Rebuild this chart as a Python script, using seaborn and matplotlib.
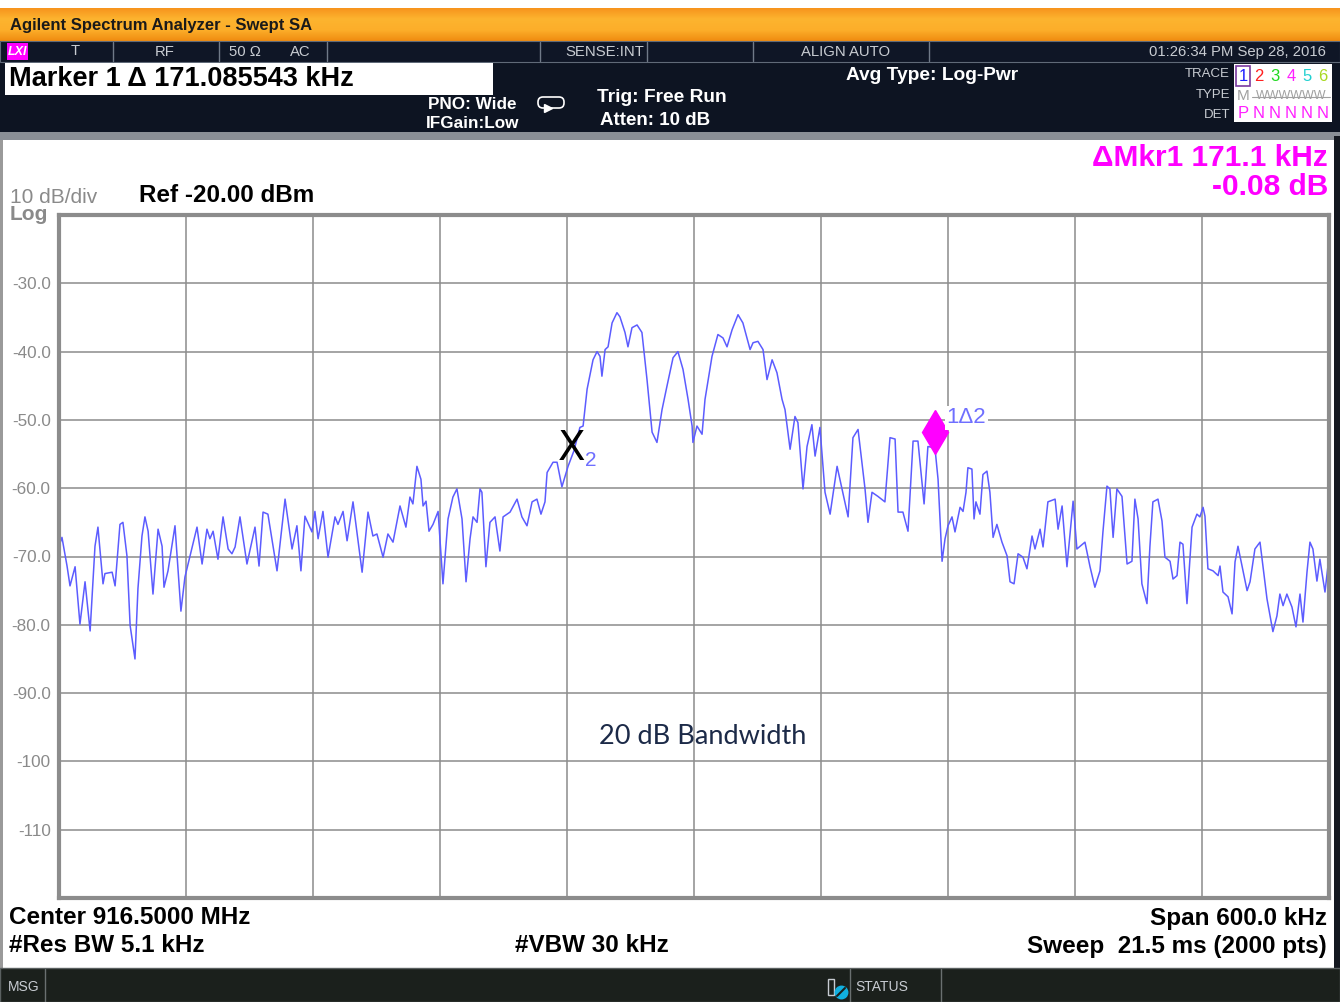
import numpy as np
import matplotlib
matplotlib.use("Agg")
import matplotlib.pyplot as plt
from matplotlib.patches import Rectangle, FancyBboxPatch
import seaborn as sns

# trace 1: offset from 916.5 MHz centre (kHz) and level (dBm)
freq_khz = [
    -300.0, -298.6, -296.2, -294.8, -292.4, -290.1, -287.7, -285.3, -283.0, -281.6,
    -279.2, -278.3, -274.9, -273.5, -271.2, -269.8, -267.9, -266.4, -264.1, -262.7,
    -260.8, -259.4, -257.9, -255.6, -253.2, -251.3, -250.4, -248.5, -245.2, -242.4,
    -240.5, -238.1, -234.8, -232.4, -230.1, -228.7, -227.2, -224.9, -222.5, -220.1,
    -218.3, -216.8, -214.5, -211.2, -207.4, -205.5, -203.6, -201.3, -197.0, -193.2,
    -189.9, -187.6, -185.7, -183.8, -180.5, -179.1, -177.6, -175.3, -172.9, -169.6,
    -168.2, -165.8, -163.9, -161.1, -159.2, -156.8, -154.0, -151.7, -149.8, -146.9,
    -144.6, -142.2, -138.9, -136.1, -134.2, -132.8, -130.9, -129.0, -128.0, -126.6,
    -125.2, -123.3, -120.9, -118.6, -116.2, -113.9, -112.0, -109.6, -107.7, -105.8,
    -104.4, -102.5, -101.1, -100.2, -98.3, -96.4, -94.0, -91.7, -90.2, -86.9,
    -83.6, -81.3, -78.9, -76.5, -74.2, -72.3, -70.4, -69.4, -66.6, -64.7,
    -62.4, -59.5, -56.7, -53.9, -52.4, -50.5, -47.7, -45.8, -44.4, -43.5,
    -42.0, -40.6, -38.7, -36.4, -35.0, -32.6, -31.2, -29.3, -26.9, -24.6,
    -22.2, -19.8, -17.5, -15.1, -12.8, -9.9, -7.6, -5.2, -2.8, -0.9,
    -0.5, 1.4, 3.8, 5.2, 8.5, 11.3, 13.7, 15.6, 18.0, 20.8,
    23.1, 26.5, 27.9, 30.2, 32.6, 34.5, 36.9, 39.2, 41.6, 43.0,
    45.4, 47.7, 49.1, 51.5, 53.4, 55.7, 57.2, 59.5, 61.9, 64.3,
    67.6, 69.9, 72.8, 75.1, 77.5, 80.8, 82.2, 84.1, 86.9, 90.2,
    92.6, 95.0, 96.4, 98.7, 101.1, 103.5, 105.8, 108.7, 110.5, 112.4,
    113.9, 115.3, 117.2, 118.6, 120.0, 121.9, 123.3, 125.7, 127.1, 128.5,
    129.4, 131.3, 132.3, 133.2, 135.1, 136.5, 138.4, 139.8, 141.3, 143.1,
    145.5, 147.9, 149.3, 151.2, 153.1, 155.4, 157.3, 159.7, 161.1, 163.5,
    164.9, 167.2, 170.6, 172.0, 173.9, 176.2, 179.1, 180.9, 184.7, 187.1,
    189.4, 191.8, 193.2, 195.1, 196.5, 198.0, 199.8, 202.2, 204.6, 206.9,
    208.3, 209.8, 211.6, 214.0, 215.4, 216.8, 219.2, 221.1, 222.5, 224.9,
    226.3, 228.2, 229.6, 231.0, 232.9, 235.3, 237.6, 239.0, 240.5, 241.4,
    242.8, 245.2, 247.6, 248.5, 249.9, 252.3, 254.2, 255.6, 257.0, 258.9,
    261.3, 262.7, 265.0, 267.4, 268.8, 270.7, 273.5, 275.4, 276.8, 278.3,
    280.1, 282.5, 284.4, 286.3, 287.7, 289.6, 291.0, 292.4, 294.3, 295.7,
    298.1, 299.5,
]
level_dbm = [
    -68.5, -67.2, -71.4, -74.3, -71.5, -79.9, -73.7, -80.9, -68.5, -65.7,
    -74.0, -72.5, -72.3, -74.3, -65.3, -65.0, -69.9, -80.1, -85.0, -74.7,
    -67.0, -64.2, -66.3, -75.5, -66.0, -68.5, -74.5, -72.1, -65.5, -78.0,
    -73.0, -69.9, -65.7, -71.1, -66.0, -67.4, -66.3, -70.4, -64.2, -68.9,
    -69.6, -68.6, -64.2, -71.1, -65.7, -71.4, -63.5, -63.8, -72.1, -61.6,
    -68.9, -65.5, -72.1, -64.1, -66.4, -63.4, -67.4, -63.4, -70.1, -64.2,
    -65.3, -63.4, -67.7, -62.0, -66.5, -72.3, -63.5, -67.0, -66.7, -70.1,
    -66.7, -67.9, -62.6, -65.7, -61.3, -62.3, -56.8, -58.7, -62.6, -61.9,
    -66.3, -65.3, -63.4, -74.0, -64.5, -61.3, -60.1, -64.5, -73.7, -67.4,
    -64.2, -65.0, -60.1, -60.6, -71.5, -65.0, -64.2, -69.2, -64.2, -63.5,
    -61.6, -64.2, -65.5, -62.0, -61.6, -63.8, -62.0, -57.7, -56.2, -56.2,
    -59.8, -56.8, -54.5, -51.1, -50.9, -45.5, -41.2, -40.0, -40.7, -43.6,
    -39.7, -39.3, -35.8, -34.3, -34.9, -37.2, -39.3, -36.5, -36.1, -37.2,
    -44.1, -51.8, -53.3, -48.5, -45.1, -40.9, -40.0, -42.6, -47.0, -50.9,
    -53.3, -50.9, -52.1, -47.0, -40.7, -37.5, -38.0, -39.3, -36.8, -34.6,
    -35.8, -39.7, -38.7, -38.5, -39.7, -44.1, -41.2, -43.1, -47.0, -48.5,
    -54.3, -49.5, -50.4, -60.1, -53.9, -50.7, -55.3, -51.1, -60.6, -63.8,
    -56.8, -60.1, -64.2, -52.6, -51.4, -60.1, -65.0, -60.6, -61.2, -62.0,
    -52.6, -52.8, -63.5, -63.5, -66.3, -53.1, -53.1, -62.3, -53.9, -54.0,
    -54.3, -58.7, -70.7, -67.4, -65.5, -64.2, -66.4, -62.8, -63.4, -60.6,
    -57.0, -57.2, -64.5, -62.0, -63.8, -58.0, -57.5, -60.6, -67.2, -65.3,
    -67.9, -69.9, -73.7, -74.0, -69.6, -70.1, -71.8, -67.0, -68.9, -66.0,
    -68.6, -62.0, -61.6, -66.0, -62.6, -71.5, -61.9, -68.9, -67.9, -71.5,
    -74.5, -72.1, -66.4, -59.7, -60.1, -67.2, -60.1, -61.2, -71.1, -70.7,
    -61.6, -64.5, -74.0, -76.9, -68.5, -62.0, -61.6, -64.8, -70.1, -70.7,
    -73.3, -72.8, -67.9, -68.2, -76.9, -65.7, -63.8, -64.2, -62.8, -64.1,
    -71.8, -72.1, -72.8, -71.4, -75.2, -75.9, -78.4, -70.8, -68.5, -71.4,
    -75.0, -73.7, -68.9, -67.9, -71.4, -76.2, -81.0, -78.7, -75.5, -77.2,
    -75.5, -77.4, -80.3, -75.5, -79.6, -72.3, -67.9, -68.9, -73.6, -70.4,
    -75.2, -71.4,
]

y_ticks = [-30, -40, -50, -60, -70, -80, -90, -100, -110]
y_tick_labels = ["-30.0", "-40.0", "-50.0", "-60.0", "-70.0", "-80.0", "-90.0", "-100", "-110"]

mkr2_freq, mkr2_level = -57.6, -54.3
mkr1_freq, mkr1_level = 113.9, -51.7

W, H = 1340, 1002
sns.set_style("white")
plt.rcParams["font.family"] = ["Liberation Sans", "DejaVu Sans"]

fig = plt.figure(figsize=(W / 100, H / 100), dpi=100)

# background layer in pixel coordinates
bg = fig.add_axes([0, 0, 1, 1], zorder=0)
bg.set_xlim(0, W)
bg.set_ylim(H, 0)
bg.axis("off")

def rect(x0, y0, x1, y1, fc, ec="none", lw=0, z=1):
    bg.add_patch(Rectangle((x0, y0), x1 - x0, y1 - y0, fc=fc, ec=ec, lw=lw, zorder=z))

# orange title bar with a vertical gradient
grad = np.linspace(0, 1, 64).reshape(-1, 1)
orange = matplotlib.colors.LinearSegmentedColormap.from_list(
    "orng", ["#f7941d", "#fdb42f", "#fcae2a", "#f08c10"])
bg.imshow(grad, cmap=orange, extent=(0, W, 41, 8), aspect="auto", zorder=1)
bg.text(10, 25, "Agilent Spectrum Analyzer - Swept SA", fontsize=12, fontweight="bold",
        va="center", color="#1a1a1a", zorder=3)

# dark header
rect(0, 41, W, 136, "#0d1422")
rect(0, 41, W, 62, "#0f1626", ec="#606a78", lw=0.8)
for sx in [113, 219, 327, 540, 647, 753, 929]:
    bg.plot([sx, sx], [42, 61], color="#707a88", lw=1, zorder=3)
rect(7, 43, 28, 60, "#ff00ff", z=3)
bg.text(17.5, 52, "LXI", fontsize=9, fontweight="bold", style="italic", color="white",
        ha="center", va="center", zorder=4)
hdr = dict(fontsize=10.7, color="#c8ccd2", va="center", zorder=4)
bg.text(75, 51, "T", ha="center", **hdr)
bg.text(165, 52, "RF", ha="center", **hdr)
bg.text(245, 52, "50 \u03a9", ha="center", **hdr)
bg.text(300, 52, "AC", ha="center", **hdr)
bg.text(605, 52, "SENSE:INT", ha="center", **hdr)
bg.text(846, 52, "ALIGN AUTO", ha="center", **hdr)
bg.text(1326, 52, "01:26:34 PM Sep 28, 2016", ha="right", **hdr)

rect(5, 63, 493, 95, "white", z=2)
bg.text(9, 79, "Marker 1 \u0394 171.085543 kHz", fontsize=19.5, fontweight="bold",
        color="black", va="center", zorder=3)
wh = dict(fontweight="bold", color="white", va="center", zorder=3)
bg.text(846, 75, "Avg Type: Log-Pwr", fontsize=13.8, **wh)
bg.text(428, 104, "PNO: Wide", fontsize=12.3, **wh)
bg.text(426, 123, "IFGain:Low", fontsize=12.3, **wh)
bg.text(597, 97, "Trig: Free Run", fontsize=13.8, **wh)
bg.text(600, 120, "Atten: 10 dB", fontsize=13.5, **wh)
bg.add_patch(FancyBboxPatch((538, 97), 26, 11, boxstyle="round,pad=0,rounding_size=5",
                            fc="none", ec="white", lw=1.2, zorder=3))
bg.plot([548], [108], marker=">", color="white", ms=6, zorder=4)

# trace / type / det table
lab = dict(fontsize=9.5, color="#c8ccd2", ha="right", va="center", zorder=3)
bg.text(1230, 74, "TRACE", **lab)
bg.text(1230, 95, "TYPE", **lab)
bg.text(1230, 115, "DET", **lab)
rect(1234, 64, 1332, 122, "white", z=2)
rect(1236, 66, 1250, 86, "none", ec="#7a3aa0", lw=1.2, z=3)
trace_colors = ["#2020ff", "#ff2020", "#20d820", "#ff20ff", "#20d0d0", "#a8d820"]
for i, c in enumerate(trace_colors):
    bg.text(1243 + i * 16, 76, str(i + 1), fontsize=12, color=c, ha="center", va="center", zorder=4)
bg.text(1243, 96, "M", fontsize=11, color="#a0a0a0", ha="center", va="center", zorder=4)
bg.text(1291, 96, "WWWWWW", fontsize=9, color="#a0a0a0", ha="center", va="center", zorder=4)
bg.plot([1252, 1330], [97, 97], color="#a0a0a0", lw=0.8, zorder=4)
for i, s in enumerate("PNNNNN"):
    bg.text(1243 + i * 16, 113, s, fontsize=12, color="#ff20ff", ha="center", va="center", zorder=4)

# grey separator strip and white screen
rect(0, 132, W, 140, "#8a8f96")
rect(3, 140, 1334, 968, "white")
rect(1334, 136, W, 968, "#141820")
rect(0, 140, 3, 968, "#9a9a9a")

mag = dict(fontsize=21.5, fontweight="bold", color="#ff00ff", ha="right", va="center", zorder=3)
bg.text(1328, 158, "\u0394Mkr1 171.1 kHz", **mag)
bg.text(1328, 187, "-0.08 dB", **mag)
bg.text(10, 197, "10 dB/div", fontsize=15, color="#8a8a8a", va="center", zorder=3)
bg.text(10, 214, "Log", fontsize=15, fontweight="bold", color="#8a8a8a", va="center", zorder=3)
bg.text(139, 195, "Ref -20.00 dBm", fontsize=17.5, fontweight="bold", color="black",
        va="center", zorder=3)

bot = dict(fontsize=17.5, fontweight="bold", color="black", va="center", zorder=3)
bg.text(9, 918, "Center 916.5000 MHz", **bot)
bg.text(9, 946, "#Res BW 5.1 kHz", **bot)
bg.text(515, 946, "#VBW 30 kHz", **bot)
bg.text(1327, 918, "Span 600.0 kHz", ha="right", **bot)
bg.text(1327, 946, "Sweep  21.5 ms (2000 pts)", ha="right", **bot)

# bottom status bar
rect(0, 968, W, H, "#1b201c", ec="#5a6060", lw=1)
for sx in [45, 850, 941]:
    bg.plot([sx, sx], [969, H], color="#6a7070", lw=1, zorder=3)
bg.text(8, 987, "MSG", fontsize=10, color="#c8ccd2", va="center", zorder=3)
bg.text(855, 987, "STATUS", fontsize=10, color="#c8ccd2", va="center", zorder=3)
rect(828, 979, 834, 995, "none", ec="#c8ccd2", lw=1, z=3)
bg.plot([841], [992], marker="o", ms=9, mfc="#10b0e0", mec="#10b0e0", zorder=4)
bg.plot([837, 845], [996, 988], color="#1b201c", lw=1.5, zorder=5)

# spectrum plot
ax = fig.add_axes([59 / W, 1 - 898 / H, (1329 - 59) / W, (898 - 215) / H], zorder=2)
ax.set_facecolor("white")
sns.lineplot(x=freq_khz, y=level_dbm, ax=ax, color="#5c5cff", lw=1.1, estimator=None, sort=False)
ax.set_xlim(-300, 300)
ax.set_ylim(-120, -20)
ax.set_xticks(np.arange(-240, 300, 60))
ax.set_yticks(y_ticks)
ax.set_yticklabels(y_tick_labels, color="#8a8a8a", fontsize=12.3)
ax.tick_params(axis="x", length=0, labelbottom=False)
ax.tick_params(axis="y", length=0, pad=6)
ax.grid(True, color="#8c8c8c", lw=1.1, zorder=0)
ax.set_axisbelow(True)
for sp in ax.spines.values():
    sp.set_color("#8c8c8c")
    sp.set_linewidth(3)
ax.set_xlabel("")
ax.set_ylabel("")

# markers
ax.text(mkr2_freq, mkr2_level, "X", fontsize=29, color="black", ha="center", va="center",
        family=["DejaVu Sans"], zorder=5)
ax.text(mkr2_freq + 6.0, mkr2_level - 1.7, "2", fontsize=15, color="#6f6fff",
        ha="left", va="center", zorder=5)
ax.plot([mkr1_freq], [mkr1_level], marker="d", ms=22, color="#ff00ff", mec="#ff00ff", zorder=5)
ax.text(mkr1_freq + 5.5, mkr1_level + 2.0, "1\u03942", fontsize=16, color="#6f6fff",
        ha="left", va="center", zorder=5,
        bbox=dict(fc="white", ec="none", pad=1))

ax.text(4.3, -96.3, "20 dB Bandwidth", fontsize=19.5, color="#1c2a48", ha="center",
        va="center", family=["Lato", "DejaVu Sans"], zorder=5)

fig.savefig("out.png", dpi=100)
